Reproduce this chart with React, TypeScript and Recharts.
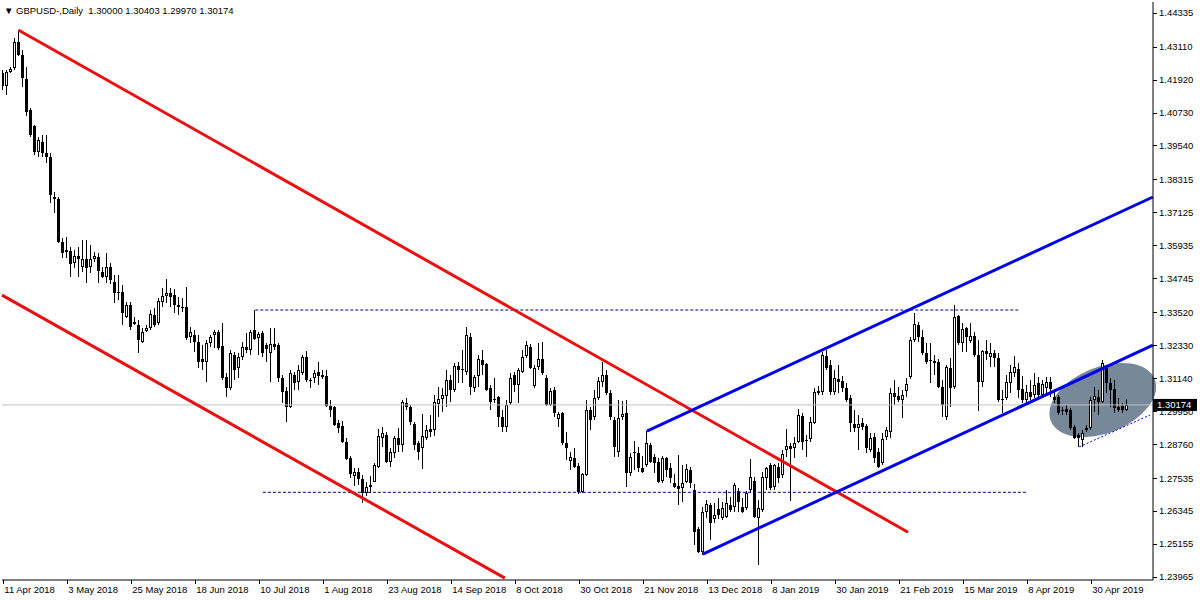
import React from "react"
import { ComposedChart, Bar, XAxis, YAxis, ReferenceLine } from "recharts"

// daily GBPUSD bars, 11 Apr 2018 .. 13 May 2019
const opens = [
  1.4216, 1.4169, 1.4219, 1.4234, 1.4328, 1.4281, 1.4194, 1.4082, 1.4024, 1.3931,
  1.3967, 1.3927, 1.3912, 1.3768, 1.3761, 1.3606, 1.357, 1.3573, 1.353, 1.3555,
  1.3515, 1.3544, 1.3515, 1.3544, 1.3551, 1.3497, 1.3479, 1.3515, 1.3461, 1.3425,
  1.3425, 1.3335, 1.3378, 1.3317, 1.3306, 1.3245, 1.3284, 1.3295, 1.3342, 1.3313,
  1.3389, 1.3411, 1.3422, 1.3414, 1.3378, 1.3371, 1.3371, 1.3263, 1.327, 1.3245,
  1.3183, 1.3172, 1.3241, 1.327, 1.3281, 1.323, 1.3118, 1.3079, 1.3198, 1.3151,
  1.319, 1.3227, 1.3216, 1.3288, 1.3259, 1.3277, 1.3234, 1.3205, 1.3237, 1.3234,
  1.3115, 1.3068, 1.301, 1.3125, 1.31, 1.3133, 1.319, 1.3107, 1.3115, 1.3136,
  1.3125, 1.3122, 1.3014, 1.301, 1.2952, 1.2941, 1.2884, 1.2826, 1.276, 1.2775,
  1.275, 1.27, 1.272, 1.274, 1.2793, 1.2898, 1.2909, 1.2811, 1.2844, 1.2898,
  1.2873, 1.3025, 1.301, 1.2949, 1.288, 1.2862, 1.2898, 1.2931, 1.2927, 1.3021,
  1.3039, 1.305, 1.3107, 1.3071, 1.3158, 1.3147, 1.3136, 1.3263, 1.3079, 1.3122,
  1.318, 1.3165, 1.3079, 1.3039, 1.3046, 1.2974, 1.2938, 1.3024, 1.3125, 1.3089,
  1.3136, 1.3194, 1.3227, 1.3086, 1.3154, 1.3183, 1.3115, 1.3017, 1.3071, 1.2967,
  1.2988, 1.288, 1.2815, 1.2826, 1.2797, 1.2703, 1.2765, 1.2999, 1.2975, 1.3042,
  1.31, 1.3125, 1.306, 1.2963, 1.2848, 1.2974, 1.2988, 1.2772, 1.2848, 1.2844,
  1.279, 1.2801, 1.2873, 1.2829, 1.2811, 1.2743, 1.2826, 1.279, 1.2736, 1.2725,
  1.2718, 1.2739, 1.2782, 1.271, 1.2569, 1.2487, 1.2631, 1.2656, 1.2606, 1.2642,
  1.2609, 1.2613, 1.2656, 1.2649, 1.2707, 1.2649, 1.2645, 1.271, 1.2743, 1.2609,
  1.2638, 1.2754, 1.2801, 1.2721, 1.2793, 1.2764, 1.2855, 1.2869, 1.2862, 1.2884,
  1.2977, 1.2891, 1.2895, 1.2952, 1.306, 1.3064, 1.3194, 1.3162, 1.3064, 1.3111,
  1.3104, 1.3079, 1.3042, 1.2949, 1.2934, 1.2952, 1.2941, 1.2855, 1.2902, 1.2848,
  1.2808, 1.2902, 1.292, 1.306, 1.305, 1.3035, 1.3068, 1.3118, 1.3252, 1.3306,
  1.3263, 1.3205, 1.318, 1.3169, 1.3172, 1.3082, 1.2974, 1.3151, 1.3082, 1.3338,
  1.3241, 1.3295, 1.3248, 1.3266, 1.3198, 1.31, 1.3212, 1.319, 1.3205, 1.3187,
  1.3039, 1.3042, 1.3097, 1.3133, 1.3147, 1.3075, 1.3035, 1.3064, 1.3053, 1.3097,
  1.3053, 1.3079, 1.31, 1.3046, 1.3046, 1.2999, 1.3003, 1.2999, 1.2938, 1.2909,
  1.2891, 1.2927, 1.2934, 1.3035, 1.3046, 1.3028, 1.3151, 1.3097, 1.3075, 1.301,
  1.3014, 1.3,
]
const highs = [
  1.4227, 1.4227, 1.4237, 1.4342, 1.4371, 1.4299, 1.4237, 1.4089, 1.4028, 1.3985,
  1.3992, 1.3992, 1.3927, 1.3786, 1.3768, 1.362, 1.3624, 1.3588, 1.3577, 1.3588,
  1.3613, 1.3613, 1.3595, 1.357, 1.3566, 1.3515, 1.3566, 1.353, 1.3486, 1.3486,
  1.345, 1.3389, 1.3389, 1.3335, 1.3324, 1.3295, 1.3306, 1.336, 1.3367, 1.3403,
  1.344, 1.3472, 1.344, 1.3436, 1.3407, 1.3403, 1.3443, 1.3299, 1.3288, 1.327,
  1.3234, 1.3252, 1.327, 1.3288, 1.3288, 1.3313, 1.3133, 1.3216, 1.3209, 1.3205,
  1.3245, 1.3277, 1.3288, 1.336, 1.3281, 1.3284, 1.3241, 1.3295, 1.3295, 1.3241,
  1.3125, 1.3082, 1.3144, 1.3136, 1.3162, 1.3198, 1.3212, 1.3115, 1.3144, 1.3172,
  1.3144, 1.3144, 1.3035, 1.3014, 1.2963, 1.2959, 1.2898, 1.2833, 1.279, 1.279,
  1.2766, 1.274, 1.276, 1.2808, 1.2931, 1.2938, 1.292, 1.2862, 1.2905, 1.2934,
  1.3035, 1.3042, 1.3017, 1.2956, 1.2887, 1.2985, 1.2945, 1.2981, 1.3053, 1.3082,
  1.3078, 1.3144, 1.3125, 1.3169, 1.3172, 1.3216, 1.3299, 1.3277, 1.3125, 1.3198,
  1.3216, 1.3169, 1.3089, 1.3115, 1.305, 1.2999, 1.3035, 1.3133, 1.3136, 1.3151,
  1.3216, 1.3248, 1.3237, 1.3162, 1.3241, 1.3245, 1.3125, 1.3079, 1.3082, 1.2992,
  1.2992, 1.292, 1.2848, 1.2862, 1.2808, 1.2772, 1.3035, 1.301, 1.3071, 1.3118,
  1.3172, 1.3144, 1.3071, 1.2974, 1.3035, 1.3031, 1.3035, 1.2844, 1.2887, 1.2866,
  1.2833, 1.2923, 1.288, 1.284, 1.2826, 1.2833, 1.2829, 1.2808, 1.2768, 1.2837,
  1.2801, 1.2804, 1.2793, 1.2732, 1.2577, 1.2649, 1.2674, 1.2663, 1.2663, 1.2683,
  1.2667, 1.271, 1.2685, 1.2736, 1.2718, 1.2682, 1.2707, 1.2822, 1.2757, 1.2674,
  1.2775, 1.2793, 1.2808, 1.2804, 1.2808, 1.2855, 1.2931, 1.288, 1.2902, 1.3003,
  1.2988, 1.2909, 1.2974, 1.3079, 1.3086, 1.3209, 1.3216, 1.318, 1.3144, 1.3162,
  1.3122, 1.3097, 1.3053, 1.2999, 1.2981, 1.297, 1.2949, 1.2916, 1.2916, 1.2862,
  1.2916, 1.2938, 1.3079, 1.3107, 1.3082, 1.3071, 1.3115, 1.3263, 1.3349, 1.3317,
  1.3288, 1.3241, 1.3241, 1.3198, 1.3183, 1.3107, 1.3162, 1.3187, 1.3378, 1.3342,
  1.3313, 1.3299, 1.3313, 1.3281, 1.3252, 1.3216, 1.3252, 1.3241, 1.3216, 1.3205,
  1.3071, 1.3125, 1.3162, 1.3194, 1.3169, 1.3122, 1.3089, 1.3107, 1.3133, 1.3118,
  1.3107, 1.3118, 1.3118, 1.3071, 1.3053, 1.301, 1.3017, 1.3006, 1.2945, 1.2916,
  1.2927, 1.2945, 1.3046, 1.3082, 1.3071, 1.318, 1.3162, 1.3115, 1.3107, 1.3042,
  1.3024, 1.30403,
]
const lows = [
  1.4154, 1.4136, 1.4216, 1.4227, 1.4277, 1.4165, 1.406, 1.3985, 1.392, 1.3912,
  1.3912, 1.3891, 1.3746, 1.371, 1.3602, 1.3548, 1.3548, 1.3479, 1.3512, 1.3479,
  1.3497, 1.3458, 1.3494, 1.3533, 1.3458, 1.3476, 1.3458, 1.3454, 1.3385, 1.3396,
  1.3306, 1.3331, 1.3288, 1.3306, 1.3205, 1.3241, 1.3281, 1.3288, 1.3299, 1.3306,
  1.3371, 1.3385, 1.3371, 1.3349, 1.3342, 1.3353, 1.3252, 1.3241, 1.3209, 1.3151,
  1.3144, 1.31, 1.3227, 1.3223, 1.3216, 1.3107, 1.3046, 1.3071, 1.3107, 1.3115,
  1.318, 1.3205, 1.3198, 1.3252, 1.3198, 1.319, 1.3172, 1.31, 1.3216, 1.31,
  1.3024, 1.2956, 1.3005, 1.3071, 1.3071, 1.3125, 1.31, 1.3079, 1.3097, 1.3089,
  1.3111, 1.301, 1.2974, 1.2941, 1.2916, 1.288, 1.2819, 1.2754, 1.2723, 1.273,
  1.2662, 1.269, 1.27, 1.2738, 1.279, 1.2866, 1.2808, 1.2793, 1.2826, 1.2848,
  1.2848, 1.2999, 1.2945, 1.2855, 1.2819, 1.2786, 1.2891, 1.2902, 1.2905, 1.2974,
  1.2992, 1.301, 1.3028, 1.3064, 1.3097, 1.3097, 1.3125, 1.3053, 1.3064, 1.3082,
  1.3125, 1.3068, 1.2999, 1.3024, 1.2938, 1.292, 1.292, 1.3017, 1.3064, 1.3024,
  1.3133, 1.3187, 1.3147, 1.3079, 1.3144, 1.3125, 1.3014, 1.3014, 1.2974, 1.2938,
  1.2873, 1.2819, 1.2783, 1.279, 1.2696, 1.27, 1.2761, 1.2927, 1.2963, 1.3035,
  1.3082, 1.3053, 1.2963, 1.2829, 1.2829, 1.2963, 1.2721, 1.2761, 1.2783, 1.2775,
  1.2772, 1.2793, 1.2808, 1.2772, 1.2736, 1.2736, 1.2757, 1.2736, 1.2718, 1.2656,
  1.2667, 1.2736, 1.2718, 1.2512, 1.2483, 1.2476, 1.2609, 1.253, 1.2591, 1.2606,
  1.2602, 1.2609, 1.2631, 1.2631, 1.2631, 1.2627, 1.2638, 1.27, 1.2609, 1.244,
  1.2631, 1.271, 1.271, 1.271, 1.2736, 1.2754, 1.2829, 1.267, 1.2826, 1.288,
  1.2855, 1.2829, 1.2884, 1.2949, 1.3053, 1.3053, 1.3144, 1.3053, 1.3053, 1.306,
  1.3064, 1.3028, 1.292, 1.292, 1.2855, 1.2927, 1.2844, 1.2848, 1.2808, 1.279,
  1.2801, 1.2891, 1.2898, 1.3017, 1.3028, 1.297, 1.3046, 1.3111, 1.3245, 1.3245,
  1.3198, 1.3165, 1.3097, 1.3125, 1.3079, 1.2974, 1.2963, 1.301, 1.3075, 1.3234,
  1.3209, 1.3209, 1.3241, 1.319, 1.2996, 1.3082, 1.318, 1.3154, 1.3154, 1.3028,
  1.2988, 1.3035, 1.306, 1.3118, 1.3042, 1.3024, 1.3024, 1.3035, 1.3042, 1.3046,
  1.3042, 1.306, 1.3046, 1.3024, 1.2981, 1.2981, 1.2981, 1.2927, 1.2895, 1.2866,
  1.2866, 1.292, 1.2927, 1.2992, 1.2981, 1.3024, 1.306, 1.301, 1.2988, 1.2992,
  1.2988, 1.2997,
]
const closes = [
  1.4169, 1.4219, 1.423, 1.4328, 1.4281, 1.4198, 1.4075, 1.3992, 1.3931, 1.3974,
  1.3927, 1.3912, 1.3775, 1.3761, 1.3606, 1.3566, 1.3577, 1.3526, 1.3555, 1.3544,
  1.3544, 1.3512, 1.3544, 1.3555, 1.3501, 1.3479, 1.3515, 1.3468, 1.3422, 1.3422,
  1.3349, 1.3378, 1.3299, 1.331, 1.3252, 1.3281, 1.3295, 1.3346, 1.3306, 1.3393,
  1.3411, 1.3422, 1.3407, 1.3378, 1.3371, 1.3367, 1.3259, 1.3281, 1.3245, 1.3172,
  1.3172, 1.3241, 1.3263, 1.3281, 1.3223, 1.3115, 1.3079, 1.3205, 1.3144, 1.319,
  1.3227, 1.3216, 1.3281, 1.3255, 1.3274, 1.3205, 1.3219, 1.3237, 1.3227, 1.3115,
  1.3064, 1.301, 1.3133, 1.3097, 1.3144, 1.319, 1.3107, 1.3104, 1.3133, 1.3122,
  1.3118, 1.3014, 1.2999, 1.2945, 1.2934, 1.2884, 1.2822, 1.2768, 1.2775, 1.275,
  1.27, 1.272, 1.273, 1.2801, 1.2905, 1.2916, 1.2811, 1.2848, 1.2898, 1.2873,
  1.3028, 1.301, 1.2956, 1.2873, 1.2848, 1.2905, 1.2927, 1.292, 1.3028, 1.3039,
  1.3053, 1.3107, 1.3071, 1.3158, 1.3144, 1.3144, 1.327, 1.3082, 1.3118, 1.3183,
  1.3162, 1.3071, 1.3028, 1.3035, 1.2974, 1.2938, 1.3017, 1.3115, 1.3089, 1.3144,
  1.319, 1.3234, 1.3151, 1.3151, 1.3183, 1.3133, 1.3017, 1.3068, 1.2988, 1.2985,
  1.288, 1.2862, 1.2829, 1.2793, 1.2703, 1.2768, 1.2999, 1.2963, 1.3042, 1.3104,
  1.3125, 1.306, 1.2974, 1.2866, 1.297, 1.2985, 1.2772, 1.2829, 1.2844, 1.279,
  1.2775, 1.288, 1.2811, 1.2808, 1.2739, 1.2826, 1.2782, 1.2754, 1.2721, 1.2714,
  1.2736, 1.2786, 1.2736, 1.2559, 1.2487, 1.2631, 1.266, 1.2591, 1.262, 1.262,
  1.2645, 1.2663, 1.2638, 1.2728, 1.2667, 1.2631, 1.27, 1.2757, 1.2613, 1.2645,
  1.2757, 1.279, 1.2718, 1.2801, 1.2754, 1.284, 1.2869, 1.2858, 1.288, 1.2981,
  1.2884, 1.2887, 1.2956, 1.3064, 1.3068, 1.3198, 1.3151, 1.3064, 1.3115, 1.31,
  1.3079, 1.3035, 1.2952, 1.2934, 1.2949, 1.2938, 1.2862, 1.2898, 1.2826, 1.2793,
  1.2895, 1.2927, 1.306, 1.3046, 1.3035, 1.3053, 1.3093, 1.3252, 1.331, 1.3263,
  1.3205, 1.3172, 1.3176, 1.3176, 1.3082, 1.3017, 1.3154, 1.3079, 1.3335, 1.3241,
  1.3292, 1.3263, 1.3266, 1.3198, 1.31, 1.3212, 1.3201, 1.3205, 1.3187, 1.3035,
  1.3035, 1.31, 1.3136, 1.3154, 1.3071, 1.3035, 1.3064, 1.3046, 1.3089, 1.3053,
  1.3093, 1.31, 1.3075, 1.3035, 1.2988, 1.2995, 1.2992, 1.2934, 1.2898, 1.2898,
  1.2916, 1.2934, 1.3035, 1.305, 1.3028, 1.3169, 1.3097, 1.3071, 1.3006, 1.2999,
  1.2999, 1.30174,
]

const dateLabels = [
  "11 Apr 2018", "3 May 2018", "25 May 2018", "18 Jun 2018", "10 Jul 2018", "1 Aug 2018",
  "23 Aug 2018", "14 Sep 2018", "8 Oct 2018", "30 Oct 2018", "21 Nov 2018", "13 Dec 2018",
  "8 Jan 2019", "30 Jan 2019", "21 Feb 2019", "15 Mar 2019", "8 Apr 2019", "30 Apr 2019",
]
const dateLabelBars = [0, 16, 32, 48, 64, 80, 96, 112, 128, 144, 160, 176, 192, 208, 224, 240, 256, 272]

const priceTicks = [
  1.44335, 1.4311, 1.4192, 1.4073, 1.3954, 1.38315, 1.37125, 1.35935, 1.34745,
  1.3352, 1.3233, 1.3114, 1.2995, 1.2876, 1.27535, 1.26345, 1.25155, 1.23965,
]

// drawn objects, in (bar, price)
const redUpper = [{ x: 3.75, y: 1.4371 }, { x: 226.2, y: 1.2558 }]
const redLower = [{ x: -0.325, y: 1.3414 }, { x: 125.4, y: 1.2392 }]
const blueUpper = [{ x: 160.9, y: 1.2923 }, { x: 287.4, y: 1.3768 }]
const blueLower = [{ x: 174.9, y: 1.2479 }, { x: 287.4, y: 1.3233 }]
const blueDotted = [{ x: 269, y: 1.2866 }, { x: 286.7, y: 1.2981 }]
const resistance = [{ x: 63, y: 1.336 }, { x: 254.2, y: 1.336 }]
const support = [{ x: 64.9, y: 1.2702 }, { x: 255.9, y: 1.2702 }]
const ellipseCenter = { bar: 275, price: 1.3035 }

const PRICE_MIN = 1.23854
const PRICE_MAX = 1.4472
const lastClose = closes[closes.length - 1]
const FONT = "'Liberation Sans', Arial, sans-serif"

const rows = opens.map((o, i) => ({ i, open: o, high: highs[i], low: lows[i], close: closes[i] }))

function Candle(props: any) {
  const { x, y, width, height, payload } = props
  if (x == null || isNaN(x) || !payload) return null
  const { open, high, low, close } = payload
  const cx = Math.floor(x + width / 2)
  const k = high > low ? height / (high - low) : 0
  const yOf = (v: number) => Math.round(y + (high - v) * k)
  const top = yOf(Math.max(open, close))
  const bot = yOf(Math.min(open, close))
  const yH = Math.round(y)
  const yL = Math.round(y + height)
  return (
    <g shapeRendering="crispEdges">
      <rect x={cx} y={yH} width={1} height={Math.max(yL - yH, 1)} fill="#000" />
      {bot - top <= 1 ? (
        <rect x={cx - 1} y={top} width={3} height={1} fill="#000" />
      ) : close >= open ? (
        <rect x={cx - 0.5} y={top + 0.5} width={2} height={bot - top - 1} fill="#fff" stroke="#000" strokeWidth={1} />
      ) : (
        <rect x={cx - 1} y={top} width={3} height={bot - top} fill="#000" />
      )}
    </g>
  )
}

// the background column of one bar carries the grey ellipse, so it sits under every candle
function EllipseBg(props: any) {
  const { x, y, width, height, index } = props
  if (index !== ellipseCenter.bar || x == null) return <g />
  const cx = x + width / 2
  const cy = y + ((PRICE_MAX - ellipseCenter.price) / (PRICE_MAX - PRICE_MIN)) * height
  return <ellipse cx={cx} cy={cy} rx={56} ry={33} fill="#778899" transform={`rotate(-22 ${cx} ${cy})`} />
}

function DateTick({ x, y, payload }: any) {
  const idx = dateLabelBars.indexOf(payload.value)
  return (
    <g>
      <line x1={Math.floor(x) + 0.5} x2={Math.floor(x) + 0.5} y1={y} y2={y + 4} stroke="#000" />
      <text x={x + 1} y={y + 13} fontSize={9.5} fontFamily={FONT} fill="#000" textAnchor="start">
        {dateLabels[idx]}
      </text>
    </g>
  )
}

function PriceTick({ x, y, payload }: any) {
  const v = payload.value
  if (v === lastClose) {
    return (
      <g>
        <rect x={x} y={y - 6} width={44} height={12} fill="#000" />
        <text x={x + 4} y={y + 3.5} fontSize={9.5} fontFamily={FONT} fill="#fff">
          {v.toFixed(5)}
        </text>
      </g>
    )
  }
  return (
    <g>
      <line x1={x} x2={x + 4} y1={Math.round(y) + 0.5} y2={Math.round(y) + 0.5} stroke="#000" />
      <text x={x + 6} y={y + 3.5} fontSize={9.5} fontFamily={FONT} fill="#000">
        {v.toFixed(5)}
      </text>
    </g>
  )
}

export default function App() {
  return (
    <div style={{ position: "absolute", left: 0, top: 0, width: 1200, height: 600, background: "#fff" }}>
      <ComposedChart width={1200} height={600} data={rows} margin={{ top: 2, right: 0, bottom: 0, left: 2 }}>
        <XAxis
          dataKey="i"
          type="number"
          domain={[-0.325, 287.425]}
          allowDataOverflow
          ticks={dateLabelBars}
          interval={0}
          tick={<DateTick />}
          tickLine={false}
          tickSize={0}
          tickMargin={0}
          axisLine={{ stroke: "#000" }}
          height={20}
        />
        <YAxis
          yAxisId="p"
          orientation="right"
          type="number"
          domain={[PRICE_MIN, PRICE_MAX]}
          allowDataOverflow
          ticks={[...priceTicks, lastClose]}
          interval={0}
          tick={<PriceTick />}
          tickLine={false}
          tickSize={0}
          tickMargin={0}
          axisLine={{ stroke: "#000" }}
          width={47}
        />
        <YAxis yAxisId="frame" orientation="left" width={0} tick={false} tickLine={false} axisLine={{ stroke: "#000" }} />

        <ReferenceLine yAxisId="p" y={lastClose} stroke="#c0c0c0" strokeWidth={1} />

        <Bar
          yAxisId="p"
          dataKey={(d: any) => [d.low, d.high]}
          barSize={3}
          background={(p: any) => <EllipseBg {...p} />}
          shape={(p: any) => <Candle {...p} />}
          isAnimationActive={false}
        />

        <ReferenceLine yAxisId="p" segment={resistance} stroke="#000080" strokeDasharray="3 2" ifOverflow="visible" />
        <ReferenceLine yAxisId="p" segment={support} stroke="#000080" strokeDasharray="3 2" ifOverflow="visible" />
        <ReferenceLine yAxisId="p" segment={blueDotted} stroke="#0000ee" strokeDasharray="2 2" ifOverflow="visible" />
        <ReferenceLine yAxisId="p" segment={redUpper} stroke="#e81010" strokeWidth={3} ifOverflow="visible" />
        <ReferenceLine yAxisId="p" segment={redLower} stroke="#e81010" strokeWidth={3} ifOverflow="visible" />
        <ReferenceLine yAxisId="p" segment={blueUpper} stroke="#0000ee" strokeWidth={3} ifOverflow="visible" />
        <ReferenceLine yAxisId="p" segment={blueLower} stroke="#0000ee" strokeWidth={3} ifOverflow="visible" />
      </ComposedChart>
      <div
        style={{
          position: "absolute",
          left: 4,
          top: 5,
          fontFamily: FONT,
          fontSize: 9.5,
          whiteSpace: "pre",
          color: "#000",
          lineHeight: "12px",
        }}
      >
        {"\u25BC GBPUSD-,Daily  1.30000 1.30403 1.29970 1.30174"}
      </div>
    </div>
  )
}
